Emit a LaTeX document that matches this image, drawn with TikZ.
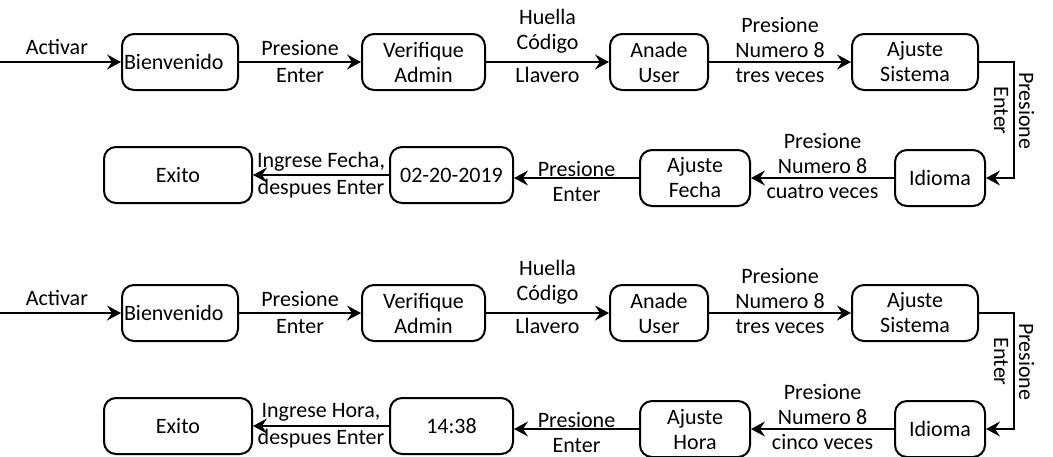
\documentclass[tikz,border=0pt]{standalone}
\usepackage{fontspec}
\setmainfont{Carlito}
\usetikzlibrary{arrows.meta}

\tikzset{
	state/.style={draw, line width=1pt, rounded corners=6pt, minimum height=28pt, inner sep=1pt, align=center},
	flow/.style={line width=1pt, -{Stealth[length=7pt, width=7.5pt, inset=2.5pt]}},
	tag/.style={align=center, inner sep=0pt}
}

\begin{document}
\begin{tikzpicture}[x=0.5pt, y=-0.5pt, font=\fontsize{11}{12.5}\selectfont]
	\useasboundingbox (0, 0) rectangle (1053, 456);
	\foreach \oy/\r/\ajuste/\valor/\veces in {0/1/Fecha/02-20-2019/cuatro, 251/2/Hora/14:38/cinco} {
		% top row
		\coordinate (start\r) at (0, {62+\oy});
		\node[state, minimum width=58pt, text width=56pt, align=left] (bien\r) at (180, {62+\oy}) {Bienvenido};
		\node[state, minimum width=61.5pt] (verif\r) at (423.5, {62+\oy}) {Verifique\\Admin};
		\node[state, minimum width=49pt] (anade\r) at (659, {62+\oy}) {Anade\\User};
		\node[state, minimum width=63pt] (sistema\r) at (915, {62+\oy}) {Ajuste\\Sistema};
		\coordinate (turn\r) at (1014, {62+\oy});
		% bottom row
		\node[state, minimum width=45pt] (idioma\r) at (940, {178+\oy}) {Idioma};
		\node[state, minimum width=55pt] (ajuste\r) at (695, {178+\oy}) {Ajuste\\\ajuste};
		\node[state, minimum width=61.5pt] (valor\r) at (451.5, {175+\oy}) {\valor};
		\node[state, minimum width=74pt] (exito\r) at (178, {175+\oy}) {Exito};

		\draw[flow] (start\r) -- (bien\r) node [tag, pos=0.47, above=3pt] {Activar};
		\draw[flow] (bien\r) -- (verif\r) node [tag, midway] {Presione\\[1pt]Enter};
		\draw[flow] (verif\r) -- (anade\r) node [tag, midway, above=4pt] {Huella\\Código}
			node [tag, midway, below=2pt] {Llavero};
		\draw[flow] (anade\r) -- (sistema\r) node [tag, midway, yshift=6pt] {Presione\\Numero 8\\tres veces};
		\draw[flow] (sistema\r) -- (turn\r) |- (idioma\r) node [tag, pos=0.21, rotate=-90] {Presione\\Enter};
		\draw[flow] (idioma\r) -- (ajuste\r) node [tag, midway, yshift=6pt] {Presione\\Numero 8\\\veces{} veces};
		\draw[flow] (ajuste\r.west) -- (ajuste\r.west -| valor\r.east) node [tag, midway, yshift=-2pt] {Presione\\Enter};
		\draw[flow] (valor\r) -- (exito\r) node [tag, midway] {Ingrese \ajuste,\\[1pt]despues Enter};
	}
\end{tikzpicture}
\end{document}
